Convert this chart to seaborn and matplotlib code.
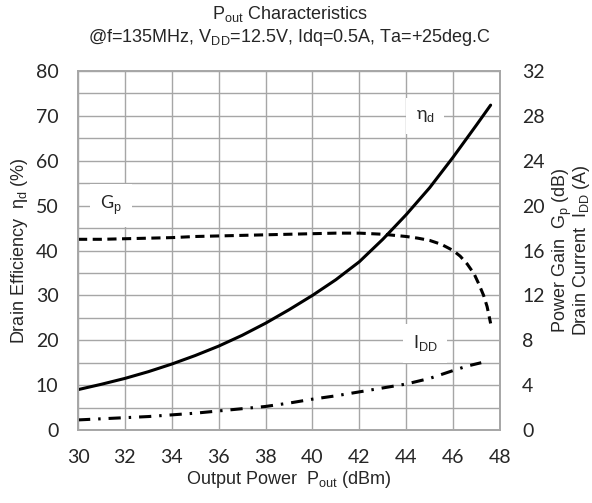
import numpy as np
import pandas as pd
import matplotlib
matplotlib.use('Agg')
import matplotlib.pyplot as plt
import seaborn as sns

# Data
pout_eff = [30, 31, 32, 33, 34, 35, 36, 37, 38, 39, 40, 41, 42, 43, 44, 45, 46, 47, 47.6]
eff = [9.0, 10.2, 11.5, 13.0, 14.7, 16.6, 18.7, 21.1, 23.8, 26.8, 30.0, 33.5,
       37.5, 42.5, 48.0, 54.0, 60.8, 68.0, 72.4]

pout_gp = [30, 31, 32, 33, 34, 35, 36, 37, 38, 39, 40, 41, 42, 43, 44, 44.5, 45,
           45.5, 46, 46.3, 46.6, 46.9, 47.1, 47.3, 47.45, 47.6]
gp = [17.0, 17.0, 17.05, 17.1, 17.15, 17.25, 17.3, 17.35, 17.4, 17.45, 17.5, 17.55,
      17.55, 17.45, 17.25, 17.1, 16.9, 16.55, 16.0, 15.5, 14.8, 13.9, 13.0, 12.0, 11.0, 9.5]

pout_idd = [30, 31, 32, 33, 34, 35, 36, 37, 38, 39, 40, 41, 42, 43, 44, 45, 46, 46.6, 47.2]
idd = [0.9, 1.0, 1.1, 1.2, 1.35, 1.5, 1.7, 1.9, 2.1, 2.4, 2.75, 3.05, 3.4, 3.75,
       4.1, 4.6, 5.3, 5.7, 6.0]

x_ticks = np.arange(30, 49, 2)
left_ticks = np.arange(0, 81, 10)
right_ticks = np.arange(0, 33, 4)

sns.set_style("white")
plt.rcParams['font.family'] = ['Liberation Sans', 'DejaVu Sans']
plt.rcParams['mathtext.fontset'] = 'custom'
plt.rcParams['mathtext.rm'] = 'Liberation Sans'
plt.rcParams['mathtext.it'] = 'Liberation Sans'

tick_font = 'Lato'
grid_c = '#a6a6a6'

fig = plt.figure(figsize=(5.92, 5.03), dpi=100)
ax = fig.add_axes([0.1318, 0.1451, 0.7128, 0.7137])
ax2 = ax.twinx()

ax.set_xlim(30, 48)
ax.set_ylim(0, 80)
ax2.set_ylim(0, 32)

ax.set_xticks(x_ticks)
ax.set_yticks(left_ticks)
ax.set_yticks(np.arange(5, 80, 10), minor=True)
ax2.set_yticks(right_ticks)
ax.grid(True, which='both', color=grid_c, linewidth=1.0)
ax.set_axisbelow(True)
for sp in list(ax.spines.values()) + list(ax2.spines.values()):
    sp.set_color(grid_c)
    sp.set_linewidth(1.2)
ax.tick_params(which='both', length=0, pad=14, labelsize=14)
ax.tick_params(axis='x', pad=14)
ax2.tick_params(length=0, pad=16, labelsize=14)
for lab in ax.get_xticklabels() + ax.get_yticklabels() + ax2.get_yticklabels():
    lab.set_fontfamily(tick_font)

# Gain and current are drawn on the left axis scale (32 -> 80)
k = 80 / 32
df_eff = pd.DataFrame({'x': pout_eff, 'y': eff})
df_gp = pd.DataFrame({'x': pout_gp, 'y': np.array(gp) * k})
df_idd = pd.DataFrame({'x': pout_idd, 'y': np.array(idd) * k})

sns.lineplot(data=df_eff, x='x', y='y', ax=ax, color='black', linewidth=2.2)
sns.lineplot(data=df_gp, x='x', y='y', ax=ax, color='black', linewidth=2.2,
             linestyle=(0, (3, 1.8)))
sns.lineplot(data=df_idd, x='x', y='y', ax=ax, color='black', linewidth=2.2,
             linestyle=(0, (4, 2.6, 0.8, 2.6)))

box = dict(facecolor='white', edgecolor='none', pad=7)
ax.text(44.8, 70, r'η$_\mathrm{d}$', ha='center', va='center', fontsize=13,
        fontfamily=tick_font, bbox=box)
ax.text(31.4, 50, r'G$_\mathrm{p}$', ha='center', va='center', fontsize=13,
        fontfamily=tick_font, bbox=box)
ax.text(44.8, 19.3, r'I$_\mathrm{DD}$', ha='center', va='center', fontsize=13,
        fontfamily=tick_font, bbox=box)

ax.set_xlabel(r'Output Power  P$_\mathrm{out}$ (dBm)', fontsize=13, labelpad=2)
ax.set_ylabel(r'Drain Efficiency  η$_\mathrm{d}$ (%)', fontsize=13, labelpad=4)
ax2.set_ylabel('Power Gain  G$_\\mathrm{p}$ (dB)\nDrain Current  I$_\\mathrm{DD}$ (A)',
               fontsize=13, labelpad=4, rotation=90, linespacing=0.85)

fig.text(0.489, 0.992, r'P$_\mathrm{out}$ Characteristics', ha='center', va='top', fontsize=13)
fig.text(0.489, 0.946, r'@f=135MHz, V$_\mathrm{DD}$=12.5V, Idq=0.5A, Ta=+25deg.C',
         ha='center', va='top', fontsize=13)

fig.savefig('out.png', dpi=100)
